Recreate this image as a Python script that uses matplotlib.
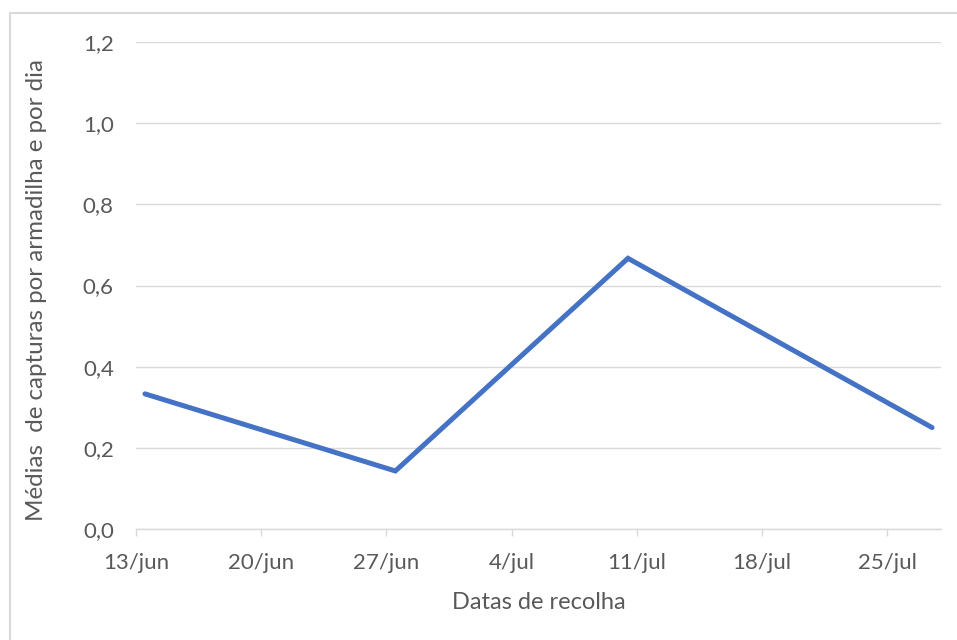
import datetime as dt
import matplotlib
matplotlib.use('Agg')
import matplotlib.pyplot as plt
import matplotlib.dates as mdates
from matplotlib.patches import Rectangle

# data
sample_dates = [dt.date(2020, 6, 13), dt.date(2020, 6, 27), dt.date(2020, 7, 10), dt.date(2020, 7, 27)]
mean_catches = [0.333, 0.143, 0.667, 0.25]
tick_dates = [dt.date(2020, 6, 13), dt.date(2020, 6, 20), dt.date(2020, 6, 27), dt.date(2020, 7, 4),
              dt.date(2020, 7, 11), dt.date(2020, 7, 18), dt.date(2020, 7, 25)]
tick_labels = ['13/jun', '20/jun', '27/jun', '4/jul', '11/jul', '18/jul', '25/jul']
y_ticks = [0.0, 0.2, 0.4, 0.6, 0.8, 1.0, 1.2]
y_labels = ['0,0', '0,2', '0,4', '0,6', '0,8', '1,0', '1,2']

plt.rcParams['font.family'] = ['Lato', 'DejaVu Sans']
text_col = '#595959'
grid_col = '#D9D9D9'

fig = plt.figure(figsize=(9.57, 6.4), dpi=100)
ax = fig.add_axes([136 / 957, (640 - 529) / 640, (941 - 136) / 957, (529 - 42) / 640])

# excel date axis puts points in the middle of the day
x = [mdates.date2num(d) + 0.5 for d in sample_dates]
ax.plot(x, mean_catches, color='#4472C4', linewidth=3.6, solid_joinstyle='miter',
        solid_capstyle='round', zorder=3)

ax.set_xlim(mdates.date2num(dt.date(2020, 6, 13)), mdates.date2num(dt.date(2020, 7, 28)))
ax.set_ylim(0, 1.2)
ax.set_xticks([mdates.date2num(d) for d in tick_dates])
ax.set_xticklabels(tick_labels)
ax.set_yticks(y_ticks)
ax.set_yticklabels(y_labels)

ax.grid(axis='y', color=grid_col, linewidth=1.0)
ax.set_axisbelow(True)
for s in ['top', 'right', 'left']:
    ax.spines[s].set_visible(False)
ax.spines['bottom'].set_color(grid_col)
ax.spines['bottom'].set_linewidth(1.0)
ax.tick_params(axis='x', colors=grid_col, length=5, width=1.0, pad=12, labelcolor=text_col, labelsize=16)
ax.tick_params(axis='y', length=0, pad=16, labelcolor=text_col, labelsize=16)

ax.set_xlabel('Datas de recolha', fontsize=17, color=text_col, labelpad=14)
ax.set_ylabel('Médias  de capturas por armadilha e por dia', fontsize=17.4, color=text_col)
ax.yaxis.set_label_coords(-89 / 805, 0.49)

# outer chart frame, only top and left edges fall inside the image
fig.patches.append(Rectangle((10 / 957, -10 / 640), 960 / 957, 637.5 / 640, transform=fig.transFigure,
                             fill=False, edgecolor='#D9D9D9', linewidth=1.5))

fig.savefig('out.png', dpi=100)
